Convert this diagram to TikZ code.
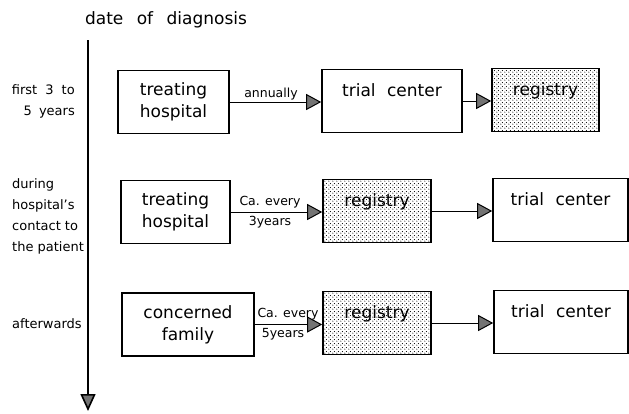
\documentclass[tikz,border=0pt]{standalone}
\usepackage{fontspec}
\setmainfont{DejaVu Sans}
\usetikzlibrary{arrows.meta}
\usetikzlibrary{patterns}
\colorlet{penColor}{black}
\colorlet{tipColor}{gray!90!black}
\pgfdeclarepatternformonly{regdots}{\pgfpointorigin}{\pgfpoint{4pt}{4pt}}{\pgfpoint{4pt}{4pt}}{
	\pgfpathcircle{\pgfpoint{1pt}{1pt}}{0.65pt}
	\pgfpathcircle{\pgfpoint{3pt}{3pt}}{0.65pt}
	\pgfusepath{fill}
}
\tikzset{
	box/.style={draw=penColor, line width=1.6pt, minimum height=63pt, inner sep=2pt, align=center, font=\fontsize{17}{22}\selectfont},
	regbox/.style={box, pattern=regdots, pattern color=penColor},
	flow/.style={-{Triangle[length=15pt,width=16pt,fill=tipColor]}, penColor, line width=1pt},
	note/.style={font=\fontsize{12.5}{16}\selectfont, inner sep=1pt},
	period/.style={font=\fontsize{13}{21}\selectfont, inner sep=1pt},
}

\begin{document}
\begin{tikzpicture}[x=1pt,y=-1pt]
				\useasboundingbox (0,0) rectangle (629,413);
				\node [font=\fontsize{17}{20}\selectfont] (title) at (166,20) {date\hspace{8pt} of\hspace{8pt} diagnosis};
				\coordinate (tstart) at (88,40);
				\coordinate (tend) at (88,411);
				\draw[-{Triangle[length=17pt,width=15pt,fill=tipColor]}, penColor, line width=1.6pt] (tstart) -- (tend);
				
				% first 3 to 5 years
				\node [period, anchor=east, align=right] (per1) at (76,101) {first\hspace{4pt} 3\hspace{4pt} to\\5\hspace{3pt} years};
				\node [box, minimum width=111pt] (hosp1) at (173.5,102) {treating\\hospital};
				\node [box, minimum width=140pt] (trial1) at (392,101) {trial\hspace{6pt} center\\\mbox{}};
				\node [regbox, minimum width=107pt] (reg1) at (545.5,100) {registry\\\mbox{}};
				\draw[flow] (hosp1.east) -- (hosp1.east -| trial1.west);
				\draw[flow] (trial1.east) -- (trial1.east -| reg1.west);
				\node [note, above] (ann1) at (271,101) {annually};
				
				% during contact
				\node [period, anchor=west, align=left] (per2) at (11,216.5) {during\\hospital's\\contact to\\the patient};
				\node [box, minimum width=109pt] (hosp2) at (175.5,212) {treating\\hospital};
				\node [regbox, minimum width=108pt] (reg2) at (377,211) {registry\\\mbox{}};
				\node [box, minimum width=135pt] (trial2) at (560.5,210) {trial\hspace{6pt} center\\\mbox{}};
				\draw[flow] (hosp2.east) -- (hosp2.east -| reg2.west);
				\draw[flow] (reg2.east) -- (reg2.east -| trial2.west);
				\node [note, above] (ann2) at (270,209) {Ca. every};
				\node [note, below] (ann3) at (270,215) {3years};
				
				% afterwards
				\node [period, anchor=west] (per3) at (11,324) {afterwards};
				\node [box, minimum width=132pt] (fam3) at (188,324.5) {concerned\\family};
				\node [regbox, minimum width=108pt] (reg3) at (377,323) {registry\\\mbox{}};
				\node [box, minimum width=134pt] (trial3) at (561,322) {trial\hspace{6pt} center\\\mbox{}};
				\draw[flow] (fam3.east) -- (fam3.east -| reg3.west);
				\draw[flow] (reg3.east) -- (reg3.east -| trial3.west);
				\node [note, above] (ann4) at (288,321) {Ca. every};
				\node [note, below] (ann5) at (283,327) {5years};
\end{tikzpicture}
\end{document}
